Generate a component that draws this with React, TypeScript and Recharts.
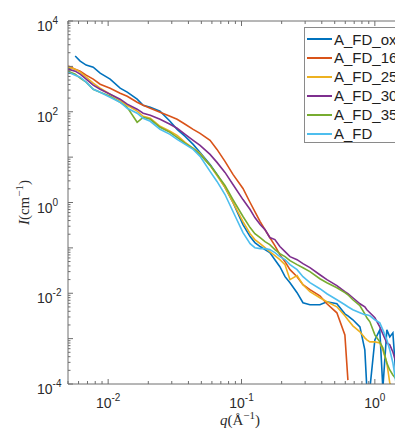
import React from "react";
import { LineChart, Line, XAxis, YAxis, Legend } from "recharts";

// q (Å^-1) sample positions
const qValues = [0.00501, 0.00566, 0.00617, 0.00684, 0.00773, 0.00871, 0.01035, 0.0123, 0.0139, 0.0165, 0.0183, 0.0207, 0.0245, 0.0291, 0.0329, 0.0378, 0.0434, 0.0489, 0.0581, 0.0655, 0.0752, 0.0863, 0.1026, 0.116, 0.126, 0.138, 0.150, 0.163, 0.178, 0.194, 0.212, 0.231, 0.261, 0.289, 0.326, 0.387, 0.437, 0.519, 0.596, 0.628, 0.684, 0.773, 0.841, 0.871, 0.918, 1.0, 1.089, 1.148, 1.23, 1.294, 1.365, 1.462, 1.538];

const iOx = [null, 1690, 1310, 1066, 962, 709, 523, 331, 270, 189, 139, 126, 103, 61.7, 41.0, 28.7, 19.1, 12.7, 6.92, 4.16, 2.15, 1.0, 0.326, 0.177, 0.131, 0.107, 0.0915, 0.0785, 0.055, 0.0385, 0.0232, 0.0171, 0.0103, 0.00617, 0.00557, 0.00557, 0.00649, 0.00586, 0.00352, 0.00318, 0.0026, 0.00182, 0.000564, 0.00008, 0.00008, 0.000938, 0.00156, 0.00008, 0.00156, 0.00109, 0.00134, 0.00008, 0.000938];

const i165 = [1014, 869, 785, 641, 523, 405, 331, 256, 220, 162, 139, 119, 97.5, 79.6, 68.2, 53.0, 41.0, 33.5, 23.5, 14.8, 8.05, 4.16, 2.04, 1.0, 0.633, 0.38, 0.253, 0.169, 0.112, 0.0709, 0.0497, 0.0331, 0.0232, 0.0154, 0.012, 0.00881, 0.00586, 0.00371, 0.00121, 0.000122, null, null, null, null, null, null, null, null, null, null, null, null, null];

const i250 = [962, 869, 746, 578, 427, 331, 244, 179, 139, 103, 79.6, 71.8, 47.9, 37.1, 30.2, 21.2, 15.6, 12.1, 6.58, 3.95, 2.15, 1.0, 0.38, 0.206, 0.152, 0.124, 0.101, 0.0826, 0.0674, 0.055, 0.0427, 0.0199, 0.0244, 0.0154, 0.0108, 0.00796, 0.00649, 0.00503, 0.00318, 0.0026, 0.00191, 0.00141, 0.00104, 0.000938, 0.000848, 0.000848, 0.000805, 0.000564, 0.000291, 0.000105, 0.00008, null, null];

const i300 = [869, 785, 674, 523, 385, 314, 244, 189, 147, 114, 92.7, 83.7, 68.2, 53.0, 43.2, 31.8, 23.5, 18.2, 11.5, 7.66, 4.6, 2.5, 1.16, 0.7, 0.466, 0.326, 0.253, 0.169, 0.152, 0.107, 0.0826, 0.0641, 0.055, 0.0449, 0.0366, 0.0256, 0.0199, 0.0147, 0.0108, 0.00975, 0.00796, 0.00586, 0.00503, 0.00432, 0.00371, 0.00288, 0.00182, 0.00127, 0.000805, 0.000728, 0.000509, 0.000263, 0.000105];

const i350 = [785, 674, 550, 449, 314, 270, 220, 162, 126, 58.6, 75.5, 68.2, 45.4, 35.2, 27.3, 20.1, 15.6, 11.5, 6.58, 4.16, 2.38, 1.16, 0.491, 0.28, 0.206, 0.169, 0.1375, 0.118, 0.0915, 0.0746, 0.0641, 0.0523, 0.0427, 0.0366, 0.0299, 0.0209, 0.0171, 0.0132, 0.0103, 0.00927, 0.00718, 0.0053, 0.00352, 0.00288, 0.00235, 0.00121, 0.000848, 0.000625, 0.000291, 0.000204, 0.000158, 0.000122, 0.000105];

const iFD = [746, 641, 578, 449, 314, 270, 209, 162, 119, 92.7, 71.8, 61.7, 41.0, 31.8, 24.7, 19.1, 14.8, 10.4, 4.84, 2.91, 1.5, 0.633, 0.217, 0.124, 0.101, 0.0962, 0.0962, 0.0915, 0.0785, 0.0641, 0.055, 0.0427, 0.0331, 0.0232, 0.0171, 0.0126, 0.00975, 0.00718, 0.00557, 0.00503, 0.00432, 0.00371, 0.00335, 0.00335, 0.00318, 0.0026, 0.00223, 0.00156, 0.000938, 0.000564, 0.000291, 0.00008, null];

const seriesNames = ["A_FD_ox", "A_FD_165", "A_FD_250", "A_FD_300", "A_FD_350", "A_FD"];
const seriesKeys = ["ox", "s165", "s250", "s300", "s350", "fd"];
const seriesColors = ["#0072BD", "#D95319", "#EDB120", "#7E2F8E", "#77AC30", "#4DBEEE"];
const seriesValues = [iOx, i165, i250, i300, i350, iFD];

const xTicks = [0.005, 0.006, 0.007, 0.008, 0.009, 0.01, 0.02, 0.03, 0.04, 0.05, 0.06, 0.07, 0.08, 0.09, 0.1, 0.2, 0.3, 0.4, 0.5, 0.6, 0.7, 0.8, 0.9, 1, 2];
const yDecades = [1e-4, 1e-3, 1e-2, 1e-1, 1, 10, 100, 1000, 10000];
const yLabelExps = [-4, -2, 0, 2, 4];
const minorMults = [2, 3, 4, 5, 6, 7, 8, 9];
const yTicks = [
  ...yDecades,
  ...yDecades.slice(0, -1).flatMap((d) => minorMults.map((m) => d * m)),
].sort((a, b) => a - b);

const data = qValues.map((q, i) => {
  const row: any = { q };
  seriesKeys.forEach((k, j) => {
    row[k] = seriesValues[j][i];
  });
  return row;
});

const AXIS = "#6e6e6e";
const TXT = "#2b2b2b";
const SANS = "'Liberation Sans', Arial, sans-serif";
const SERIF = "'Liberation Serif', 'Times New Roman', serif";

const isDecade = (v: number) => {
  const e = Math.log10(v);
  return Math.abs(e - Math.round(e)) < 1e-6;
};

const BottomTick = (props: any) => {
  const { x, y, payload } = props;
  const v = payload.value;
  const major = isDecade(v);
  const e = Math.round(Math.log10(v));
  return (
    <g>
      <line x1={x} x2={x} y1={y} y2={y - (major ? 5 : 3)} stroke={AXIS} strokeWidth={1} />
      {major && (
        <text x={x} y={y + 24} textAnchor="middle" fontSize={14} fill={TXT} fontFamily={SANS}>
          10<tspan dy={-7} fontSize={10}>{e}</tspan>
        </text>
      )}
    </g>
  );
};

const TopTick = (props: any) => {
  const { x, y, payload } = props;
  const major = isDecade(payload.value);
  return <line x1={x} x2={x} y1={y} y2={y + (major ? 5 : 3)} stroke={AXIS} strokeWidth={1} />;
};

const LeftTick = (props: any) => {
  const { x, y, payload } = props;
  const v = payload.value;
  const major = isDecade(v);
  const e = Math.round(Math.log10(v));
  const labeled = major && yLabelExps.includes(e);
  return (
    <g>
      <line x1={x} x2={x + (major ? 5 : 2.5)} y1={y} y2={y} stroke={AXIS} strokeWidth={1} />
      {labeled && (
        <text x={x - 31} y={y + 10} textAnchor="start" fontSize={14} fill={TXT} fontFamily={SANS}>
          10<tspan dy={-7} fontSize={10}>{e}</tspan>
        </text>
      )}
    </g>
  );
};

const XLabel = (props: any) => {
  const vb = props.viewBox || { x: 68, y: 384, width: 347, height: 46 };
  const cx = 240;
  return (
    <text x={cx} y={vb.y + 41} textAnchor="middle" fontSize={15} fill={TXT} fontFamily={SERIF}>
      <tspan fontStyle="italic">q</tspan>(Å<tspan dy={-6} fontSize={11}>−1</tspan>
      <tspan dy={6}>)</tspan>
    </text>
  );
};

const YLabel = (props: any) => {
  const vb = props.viewBox || { x: 0, y: 21, width: 68, height: 363 };
  const cy = vb.y + vb.height / 2;
  const lx = 29;
  return (
    <text
      x={lx}
      y={cy}
      transform={`rotate(-90, ${lx}, ${cy})`}
      textAnchor="middle"
      fontSize={15}
      fill={TXT}
      fontFamily={SERIF}
    >
      <tspan fontStyle="italic">I</tspan>(cm<tspan dy={-6} fontSize={11}>−1</tspan>
      <tspan dy={6}>)</tspan>
    </text>
  );
};

const LegendBox = () => (
  <div
    style={{
      width: 120,
      height: 116,
      border: `1px solid #8a8a8a`,
      background: "#fff",
      boxSizing: "border-box",
      position: "relative",
      fontFamily: SANS,
      fontSize: 15,
      color: "#1e1e1e",
    }}
  >
    {seriesNames.map((name, i) => (
      <div
        key={name}
        style={{
          position: "absolute",
          left: 2,
          top: 2 + i * 18.9,
          height: 18,
          display: "flex",
          alignItems: "center",
          whiteSpace: "nowrap",
        }}
      >
        <span style={{ display: "inline-block", width: 25, height: 2, background: seriesColors[i], marginRight: 2 }} />
        <span>{name}</span>
      </div>
    ))}
  </div>
);

export default function App() {
  return (
    <div
      style={{
        margin: "-8px 0 0 -8px",
        width: 403,
        height: 430,
        overflow: "hidden",
        position: "relative",
        background: "#fff",
      }}
    >
      <LineChart width={440} height={430} data={data} margin={{ top: 1, right: 25, bottom: 0, left: 0 }}>
        <XAxis
          xAxisId="bottom"
          dataKey="q"
          type="number"
          scale="log"
          domain={[0.005, 2]}
          allowDataOverflow
          ticks={xTicks}
          interval={0}
          tickSize={0}
          tickMargin={0}
          tickLine={false}
          tick={<BottomTick />}
          axisLine={{ stroke: AXIS }}
          height={46}
          label={<XLabel />}
        />
        <XAxis
          xAxisId="top"
          orientation="top"
          dataKey="q"
          type="number"
          scale="log"
          domain={[0.005, 2]}
          allowDataOverflow
          ticks={xTicks}
          interval={0}
          tickSize={0}
          tickMargin={0}
          tickLine={false}
          tick={<TopTick />}
          axisLine={{ stroke: AXIS }}
          height={20}
        />
        <YAxis
          yAxisId="left"
          type="number"
          scale="log"
          domain={[1e-4, 1e4]}
          allowDataOverflow
          ticks={yTicks}
          interval={0}
          tickSize={0}
          tickMargin={0}
          tickLine={false}
          tick={<LeftTick />}
          axisLine={{ stroke: AXIS }}
          width={68}
          label={<YLabel />}
        />
        <Legend
          layout="horizontal"
          verticalAlign="middle"
          align="center"
          content={<LegendBox />}
          wrapperStyle={{ position: "absolute", left: 304, top: 27, width: 120, height: 116 }}
        />
        {seriesKeys.map((k, i) => (
          <Line
            key={k}
            xAxisId="bottom"
            yAxisId="left"
            dataKey={k}
            name={seriesNames[i]}
            stroke={seriesColors[i]}
            strokeWidth={1.6}
            dot={false}
            activeDot={false}
            connectNulls={false}
            isAnimationActive={false}
          />
        ))}
      </LineChart>
    </div>
  );
}
